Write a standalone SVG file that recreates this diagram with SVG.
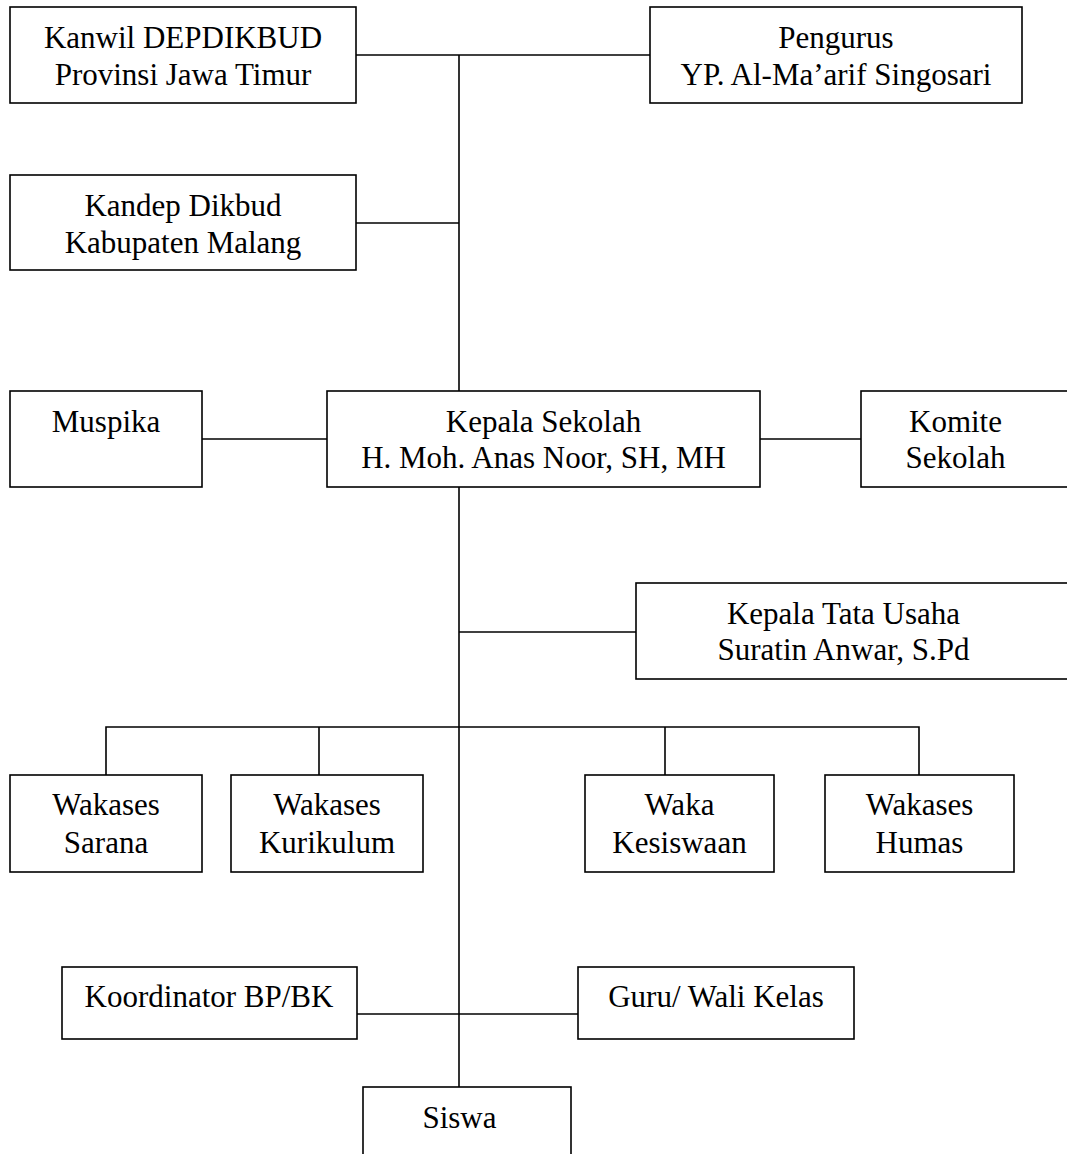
<svg xmlns="http://www.w3.org/2000/svg" width="1067" height="1154" viewBox="0 0 1067 1154">
  <style>
    .box { fill: #fff; stroke: #000; stroke-width: 1.6; }
    .wire { fill: none; stroke: #000; stroke-width: 1.6; }
    text { font-family: "Liberation Serif", "Times New Roman", serif; font-size: 31px; fill: #000; text-anchor: middle; }
  </style>
  <rect width="1067" height="1154" fill="#fff"/>

  <!-- connectors -->
  <g id="connectors" class="wire">
    <path d="M356 55 H650"/>
    <path d="M459 55 V391"/>
    <path d="M356 223 H459"/>
    <path d="M202 439 H327"/>
    <path d="M760 439 H861"/>
    <path d="M459 487 V1087"/>
    <path d="M459 632 H636"/>
    <path d="M106 775 V727 H919 V775"/>
    <path d="M319 727 V775"/>
    <path d="M665 727 V775"/>
    <path d="M357 1014 H578"/>
  </g>

  <g id="kanwil">
    <rect class="box" x="10" y="7" width="346" height="96"/>
    <text x="183" y="48">Kanwil DEPDIKBUD</text>
    <text x="183" y="85">Provinsi Jawa Timur</text>
  </g>
  <g id="pengurus">
    <rect class="box" x="650" y="7" width="372" height="96"/>
    <text x="836" y="48">Pengurus</text>
    <text x="836" y="85">YP. Al-Ma’arif Singosari</text>
  </g>
  <g id="kandep">
    <rect class="box" x="10" y="175" width="346" height="95"/>
    <text x="183" y="216">Kandep Dikbud</text>
    <text x="183" y="253">Kabupaten Malang</text>
  </g>
  <g id="muspika">
    <rect class="box" x="10" y="391" width="192" height="96"/>
    <text x="106" y="432">Muspika</text>
  </g>
  <g id="kepala-sekolah">
    <rect class="box" x="327" y="391" width="433" height="96"/>
    <text x="543.5" y="432">Kepala Sekolah</text>
    <text x="543.5" y="468">H. Moh. Anas Noor, SH, MH</text>
  </g>
  <g id="komite">
    <rect class="box" x="861" y="391" width="220" height="96"/>
    <text x="955.5" y="432">Komite</text>
    <text x="955.5" y="468">Sekolah</text>
  </g>
  <g id="tata-usaha">
    <rect class="box" x="636" y="583" width="445" height="96"/>
    <text x="843.5" y="623.5">Kepala Tata Usaha</text>
    <text x="843.5" y="659.5">Suratin Anwar, S.Pd</text>
  </g>
  <g id="wakases-sarana">
    <rect class="box" x="10" y="775" width="192" height="97"/>
    <text x="106" y="815">Wakases</text>
    <text x="106" y="852.5">Sarana</text>
  </g>
  <g id="wakases-kurikulum">
    <rect class="box" x="231" y="775" width="192" height="97"/>
    <text x="327" y="815">Wakases</text>
    <text x="327" y="852.5">Kurikulum</text>
  </g>
  <g id="waka-kesiswaan">
    <rect class="box" x="585" y="775" width="189" height="97"/>
    <text x="679.5" y="815">Waka</text>
    <text x="679.5" y="852.5">Kesiswaan</text>
  </g>
  <g id="wakases-humas">
    <rect class="box" x="825" y="775" width="189" height="97"/>
    <text x="919.5" y="815">Wakases</text>
    <text x="919.5" y="852.5">Humas</text>
  </g>
  <g id="koordinator-bk">
    <rect class="box" x="62" y="967" width="295" height="72"/>
    <text x="209" y="1007">Koordinator BP/BK</text>
  </g>
  <g id="guru-wali-kelas">
    <rect class="box" x="578" y="967" width="276" height="72"/>
    <text x="716" y="1007">Guru/ Wali Kelas</text>
  </g>
  <g id="siswa">
    <rect class="box" x="363" y="1087" width="208" height="80"/>
    <text x="459.5" y="1127.5">Siswa</text>
  </g>
</svg>
